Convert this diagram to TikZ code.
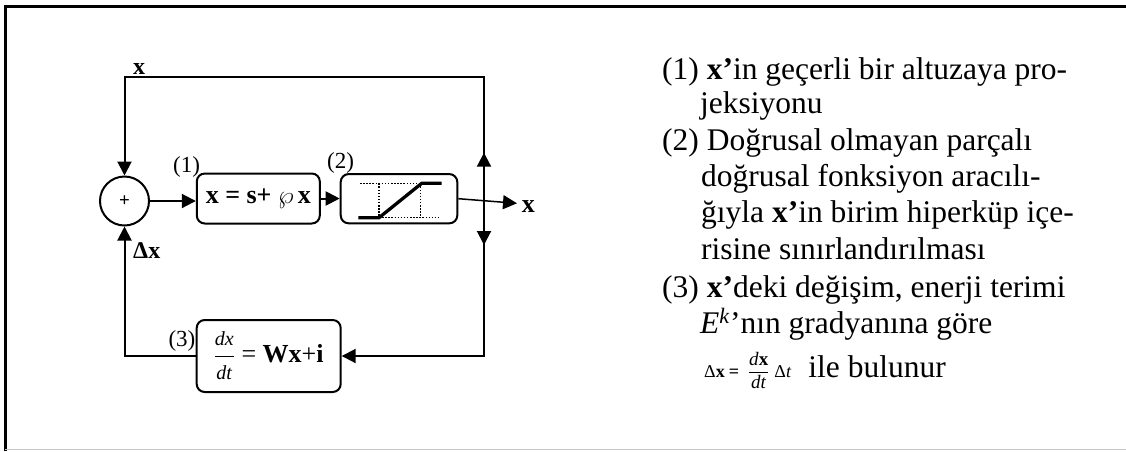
\documentclass[tikz,border=0pt]{standalone}
\usepackage{fontspec}
\setmainfont{Liberation Serif}
\usetikzlibrary{arrows.meta}
\begin{document}
\begin{tikzpicture}[x=1pt,y=-1pt,
  line/.style={line width=2pt,line cap=rect},
  arr/.style={line width=2pt,-{Triangle[length=14pt,width=14pt]}},
  thinarr/.style={line width=1.5pt,-{Triangle[length=14pt,width=14pt]}},
  blk/.style={draw,line width=2pt,rounded corners=8pt,inner sep=0pt},
  lbl/.style={inner sep=0pt,anchor=base west,font=\fontsize{23}{26}\selectfont},
  blbl/.style={inner sep=0pt,anchor=base west,font=\fontsize{24}{26}\selectfont\bfseries},
  txt/.style={inner sep=0pt,anchor=base west,font=\fontsize{31.5}{36}\selectfont},
  dots/.style={line width=1.2pt,dash pattern=on 1.5pt off 1.6pt},
  curve/.style={line width=3.3pt}]
\useasboundingbox (0,0) rectangle (1126,451);
% frame
\draw[line width=3pt] (1126,6.5) -- (5,6.5) -- (5,451);
\draw[black!22,line width=1pt] (5,449.5) -- (1126,449.5);

% blocks
\node[draw,circle,line width=2pt,minimum size=49pt,inner sep=0pt] (sum) at (124.5,201)
  {\fontsize{19}{19}\selectfont\textbf{+}};
\node[blk,minimum width=123pt,minimum height=50pt] (b1) at (258.3,198.5)
  {\fontsize{26}{28}\selectfont\textbf{x = s+} $\wp$\,\textbf{x}};
\node[blk,minimum width=116.6pt,minimum height=49.3pt] (b2) at (399,198.7) {};
\node[blk,minimum width=144pt,minimum height=72pt] (b3) at (268.7,356)
  {\fontsize{26}{28}\selectfont$\displaystyle\frac{\mbox{\fontsize{20}{20}\selectfont\textit{dx}}}{\mbox{\fontsize{20}{20}\selectfont\textit{dt}}}$ = \textbf{Wx}+\textbf{i}};

% saturation graph inside block 2
\begin{scope}[shift={(b2.center)}]
  \draw[dots] (-39,-15.4) -- (41,-15.4);
  \draw[dots] (-20,19) -- (41,19);
  \draw[dots] (-20,-15.4) -- (-20,19);
  \draw[dots] (21.7,-15.4) -- (21.7,19);
  \draw[curve] (-40.7,19) -- (-20,19) -- (22.7,-15.4) -- (42.7,-15.4);
\end{scope}

% labels
\node[blbl] (lx) at (133,74) {x};
\node[blbl] (ldx) at (133,258) {Δx};
\node[lbl] (l1) at (173,172.5) {(1)};
\node[lbl] (l2) at (327,168) {(2)};
\node[lbl] (l3) at (168.3,346.5) {(3)};
\node[inner sep=0pt,anchor=base west,font=\fontsize{26}{28}\selectfont\bfseries] (outx) at (521.7,212) {x};

% coordinates
\coordinate (tl) at (124.5,77);
\coordinate (tr) at (484,77);
\coordinate (j) at (484,200);
\coordinate (ju) at (484,152.7);
\coordinate (jd) at (484,245);
\coordinate (br) at (484,356);
\coordinate (bl) at (124.5,356);
\coordinate (oe) at (517,203.3);

% connectors
\draw[line] (br) -- (tr) -- (tl);
\draw[arr] (tl) -- (sum.north);
\draw[arr] (j) -- (ju);
\draw[arr] (j) -- (jd);
\draw[arr,line cap=rect] (br) -- (b3.east);
\draw[arr] (b3.west) -- (bl) -- (sum.south);
\draw[arr] (sum.east) -- (sum.east -| b1.west);
\draw[arr] (b1.east) -- (b1.east -| b2.west);
\draw[thinarr] (b2.east) -- (oe);

% explanation text
\node[txt] (t1) at (662,79) {(1) \textbf{x’}in geçerli bir altuzaya pro-};
\node[txt] (t2) at (700,113) {jeksiyonu};
\node[txt] (t3) at (662,150) {(2) Doğrusal olmayan parçalı};
\node[txt] (t4) at (701,186) {doğrusal fonksiyon aracılı-};
\node[txt] (t5) at (701,222) {ğıyla \textbf{x’}in birim hiperküp içe-};
\node[txt] (t6) at (701,259) {risine sınırlandırılması};
\node[txt] (t7) at (662,297) {(3) \textbf{x’}deki değişim, enerji terimi};
\node[txt] (t8) at (700,333) {\textit{E}\textsuperscript{\textit{k}}’nın gradyanına göre};
\node[txt] (t9) at (704,377) {{\fontsize{18}{20}\selectfont Δ\textbf{x}\kern4pt\textbf{=}\kern9pt$\displaystyle\frac{\mbox{\fontsize{19}{20}\selectfont\textit{d}\textbf{x}}}{\mbox{\fontsize{19}{20}\selectfont\textit{dt}}}$\kern5ptΔ\textit{t}}\kern17pt ile bulunur};
\end{tikzpicture}
\end{document}
